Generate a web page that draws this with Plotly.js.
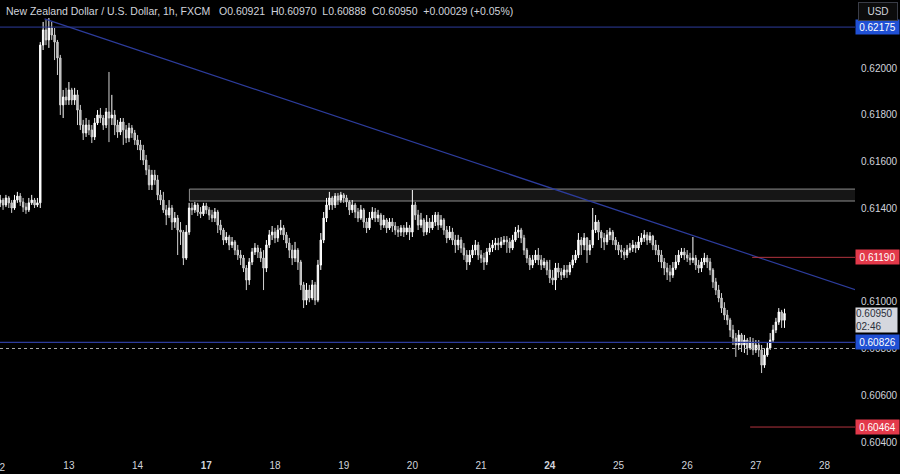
<!DOCTYPE html>
<html><head><meta charset="utf-8">
<script src="https://cdn.plot.ly/plotly-3.0.1.min.js"></script>
<style>html,body{margin:0;padding:0;background:#000;}#chart{width:900px;height:474px;}</style>
</head><body><div id="chart"></div>
<script>
// Hourly bars, index 0 = start of day 12
const dayTickIdx = [24,48,72,96,120,144,168,192,216,240,264,288];
const dayLabels = ['13','14','<b>17</b>','18','19','20','21','<b>24</b>','25','26','27','28'];
const firstDayLabel = '12';
const priceTicks = [0.604,0.606,0.608,0.610,0.614,0.616,0.618,0.620];

const firstOpen = 0.61423;
const closes = [0.61435,0.61414,0.61444,0.61423,0.61401,0.61435,0.61452,0.61427,0.61405,0.61393,
0.61423,0.61435,0.61414,0.61423,0.62098,0.62163,0.62120,0.62171,0.62141,0.62111,
0.62043,0.61842,0.61876,0.61863,0.61906,0.61863,0.61885,0.61820,0.61756,0.61722,
0.61756,0.61735,0.61705,0.61765,0.61799,0.61786,0.61756,0.61812,0.61786,0.61799,
0.61756,0.61726,0.61769,0.61735,0.61701,0.61743,0.61722,0.61692,0.61671,0.61649,
0.61606,0.61564,0.61500,0.61542,0.61521,0.61457,0.61435,0.61393,0.61371,0.61401,
0.61341,0.61358,0.61307,0.61298,0.61187,0.61298,0.61401,0.61393,0.61414,0.61384,
0.61376,0.61410,0.61393,0.61371,0.61358,0.61384,0.61328,0.61307,0.61264,0.61277,
0.61243,0.61256,0.61221,0.61200,0.61187,0.61144,0.61093,0.61170,0.61213,0.61230,
0.61213,0.61187,0.61144,0.61243,0.61286,0.61298,0.61273,0.61307,0.61316,0.61286,
0.61251,0.61221,0.61187,0.61221,0.61170,0.61072,0.61007,0.61050,0.61016,0.61072,
0.61007,0.61157,0.61264,0.61358,0.61414,0.61444,0.61414,0.61452,0.61435,0.61457,
0.61444,0.61427,0.61393,0.61414,0.61384,0.61358,0.61393,0.61341,0.61316,0.61358,
0.61384,0.61358,0.61371,0.61328,0.61350,0.61316,0.61341,0.61324,0.61307,0.61298,
0.61316,0.61298,0.61316,0.61298,0.61414,0.61371,0.61328,0.61350,0.61298,0.61341,
0.61316,0.61341,0.61371,0.61328,0.61350,0.61307,0.61273,0.61298,0.61264,0.61243,
0.61264,0.61230,0.61200,0.61170,0.61200,0.61221,0.61243,0.61200,0.61187,0.61170,
0.61213,0.61230,0.61243,0.61251,0.61243,0.61256,0.61264,0.61256,0.61230,0.61264,
0.61298,0.61307,0.61273,0.61221,0.61187,0.61157,0.61179,0.61200,0.61179,0.61157,
0.61170,0.61136,0.61102,0.61093,0.61144,0.61127,0.61114,0.61136,0.61127,0.61157,
0.61179,0.61200,0.61264,0.61243,0.61273,0.61221,0.61243,0.61307,0.61341,0.61298,
0.61273,0.61256,0.61286,0.61298,0.61264,0.61243,0.61221,0.61213,0.61200,0.61221,
0.61230,0.61243,0.61230,0.61256,0.61273,0.61286,0.61264,0.61281,0.61243,0.61221,
0.61200,0.61170,0.61144,0.61127,0.61114,0.61144,0.61170,0.61200,0.61213,0.61200,
0.61187,0.61179,0.61187,0.61157,0.61144,0.61170,0.61187,0.61170,0.61136,0.61085,
0.61050,0.61016,0.60973,0.60943,0.60922,0.60879,0.60845,0.60815,0.60858,0.60815,
0.60836,0.60802,0.60828,0.60794,0.60815,0.60794,0.60729,0.60772,0.60802,0.60836,
0.60879,0.60913,0.60956,0.60921,0.60950];

const highs = [0.61457,0.61444,0.61457,0.61452,0.61435,0.61457,0.61470,0.61465,0.61444,0.61423,
0.61444,0.61457,0.61444,0.61444,0.62111,0.62197,0.62205,0.62214,0.62197,0.62171,
0.62120,0.62056,0.61906,0.61915,0.61940,0.61915,0.61915,0.61906,0.61842,0.61778,
0.61786,0.61778,0.61756,0.61786,0.61820,0.61829,0.61799,0.61829,0.61983,0.61885,
0.61820,0.61778,0.61786,0.61786,0.61756,0.61765,0.61756,0.61735,0.61713,0.61692,
0.61671,0.61628,0.61585,0.61564,0.61564,0.61542,0.61478,0.61470,0.61414,0.61435,
0.61414,0.61384,0.61371,0.61341,0.61307,0.61328,0.61423,0.61423,0.61427,0.61423,
0.61405,0.61423,0.61423,0.61405,0.61393,0.61401,0.61393,0.61350,0.61316,0.61298,
0.61286,0.61277,0.61264,0.61243,0.61221,0.61200,0.61157,0.61187,0.61230,0.61251,
0.61243,0.61230,0.61221,0.61264,0.61307,0.61324,0.61316,0.61328,0.61350,0.61328,
0.61298,0.61273,0.61243,0.61256,0.61230,0.61179,0.61085,0.61080,0.61072,0.61093,
0.61085,0.61179,0.61294,0.61384,0.61444,0.61470,0.61452,0.61465,0.61465,0.61470,
0.61465,0.61457,0.61435,0.61435,0.61423,0.61401,0.61414,0.61401,0.61358,0.61384,
0.61405,0.61401,0.61393,0.61380,0.61371,0.61358,0.61358,0.61358,0.61341,0.61324,
0.61328,0.61328,0.61341,0.61328,0.61478,0.61427,0.61393,0.61380,0.61358,0.61371,
0.61358,0.61371,0.61384,0.61384,0.61371,0.61358,0.61324,0.61324,0.61316,0.61286,
0.61286,0.61277,0.61251,0.61221,0.61221,0.61243,0.61264,0.61256,0.61221,0.61209,
0.61230,0.61251,0.61264,0.61273,0.61273,0.61277,0.61281,0.61281,0.61273,0.61286,
0.61320,0.61328,0.61316,0.61286,0.61230,0.61200,0.61200,0.61221,0.61230,0.61200,
0.61187,0.61179,0.61179,0.61136,0.61166,0.61166,0.61144,0.61157,0.61157,0.61170,
0.61200,0.61221,0.61294,0.61277,0.61294,0.61277,0.61264,0.61401,0.61371,0.61350,
0.61307,0.61294,0.61307,0.61316,0.61307,0.61277,0.61256,0.61243,0.61230,0.61243,
0.61251,0.61264,0.61256,0.61281,0.61294,0.61307,0.61298,0.61298,0.61286,0.61264,
0.61243,0.61221,0.61187,0.61166,0.61157,0.61170,0.61200,0.61221,0.61230,0.61230,
0.61221,0.61209,0.61277,0.61200,0.61179,0.61187,0.61209,0.61200,0.61187,0.61144,
0.61102,0.61072,0.61037,0.60998,0.60965,0.60931,0.60901,0.60866,0.60879,0.60866,
0.60858,0.60845,0.60849,0.60845,0.60836,0.60836,0.60815,0.60802,0.60824,0.60866,
0.60901,0.60931,0.60973,0.60965,0.60970];

const lows = [0.61405,0.61393,0.61405,0.61401,0.61380,0.61393,0.61423,0.61410,0.61384,0.61376,
0.61384,0.61414,0.61401,0.61405,0.61401,0.62077,0.62098,0.62086,0.62120,0.62034,
0.61970,0.61799,0.61786,0.61842,0.61842,0.61842,0.61842,0.61756,0.61735,0.61692,
0.61705,0.61713,0.61679,0.61692,0.61756,0.61765,0.61735,0.61743,0.61683,0.61756,
0.61713,0.61701,0.61713,0.61671,0.61679,0.61683,0.61701,0.61671,0.61649,0.61606,
0.61585,0.61542,0.61478,0.61478,0.61500,0.61435,0.61414,0.61380,0.61328,0.61358,
0.61307,0.61316,0.61200,0.61243,0.61157,0.61179,0.61286,0.61371,0.61380,0.61367,
0.61358,0.61367,0.61376,0.61350,0.61341,0.61341,0.61294,0.61286,0.61243,0.61251,
0.61221,0.61230,0.61200,0.61179,0.61157,0.61127,0.61050,0.61072,0.61157,0.61200,
0.61187,0.61170,0.61050,0.61127,0.61230,0.61264,0.61251,0.61256,0.61286,0.61264,
0.61230,0.61187,0.61157,0.61170,0.61136,0.61050,0.60973,0.60986,0.60998,0.61007,
0.60986,0.60998,0.61136,0.61251,0.61341,0.61393,0.61393,0.61401,0.61414,0.61423,
0.61423,0.61405,0.61371,0.61380,0.61358,0.61341,0.61350,0.61316,0.61294,0.61307,
0.61350,0.61341,0.61341,0.61307,0.61316,0.61294,0.61307,0.61298,0.61286,0.61277,
0.61281,0.61277,0.61286,0.61264,0.61277,0.61350,0.61307,0.61316,0.61281,0.61286,
0.61294,0.61307,0.61324,0.61307,0.61316,0.61286,0.61251,0.61264,0.61243,0.61209,
0.61221,0.61209,0.61179,0.61136,0.61157,0.61187,0.61200,0.61179,0.61166,0.61136,
0.61157,0.61200,0.61213,0.61221,0.61221,0.61230,0.61243,0.61209,0.61209,0.61221,
0.61256,0.61273,0.61251,0.61200,0.61166,0.61136,0.61144,0.61166,0.61157,0.61136,
0.61144,0.61114,0.61080,0.61072,0.61050,0.61102,0.61093,0.61102,0.61102,0.61114,
0.61144,0.61166,0.61187,0.61200,0.61221,0.61166,0.61200,0.61230,0.61294,0.61264,
0.61230,0.61221,0.61243,0.61264,0.61243,0.61221,0.61200,0.61187,0.61179,0.61187,
0.61209,0.61213,0.61209,0.61221,0.61243,0.61256,0.61243,0.61251,0.61221,0.61200,
0.61170,0.61144,0.61114,0.61093,0.61085,0.61102,0.61136,0.61157,0.61187,0.61179,
0.61170,0.61157,0.61166,0.61136,0.61123,0.61127,0.61157,0.61144,0.61114,0.61059,
0.61029,0.60998,0.60952,0.60922,0.60901,0.60849,0.60815,0.60764,0.60794,0.60785,
0.60781,0.60772,0.60794,0.60772,0.60781,0.60764,0.60695,0.60717,0.60764,0.60794,
0.60824,0.60866,0.60901,0.60888,0.60888];

// Drawn levels and objects
const resistanceLevel = 0.62175;
const supportLevel = 0.60826;
const dottedLevel = 0.60800;
const targetUp = 0.61190;
const targetDown = 0.60464;
const zoneTop = 0.61482, zoneBottom = 0.61431, zoneStartIdx = 66.1;
const trendIdx = [15.5, 300];
const trendPrice = [0.62210, 0.61046];
const lastPrice = 0.60950;

const opens = closes.map((c, i) => i === 0 ? firstOpen : closes[i - 1]);
const idx = closes.map((c, i) => i);

const trace = {
  type: 'candlestick',
  x: idx, open: opens, high: highs, low: lows, close: closes,
  increasing: {line: {color: '#ffffff', width: 1}, fillcolor: '#ffffff'},
  decreasing: {line: {color: '#d2d2d2', width: 1}, fillcolor: '#ababab'},
  whiskerwidth: 0,
  hoverinfo: 'skip'
};

const navy = '#2d3c9c';
const red = '#b3343f';
const xMax = 298.63;

const shapes = [
  {type: 'rect', xref: 'x', yref: 'y', x0: zoneStartIdx, x1: 305, y0: zoneBottom, y1: zoneTop,
   fillcolor: '#161616', line: {color: '#8c8c8c', width: 1}, layer: 'below'},
  {type: 'line', xref: 'paper', yref: 'y', x0: 0, x1: 1, y0: resistanceLevel, y1: resistanceLevel, line: {color: navy, width: 1}},
  {type: 'line', xref: 'paper', yref: 'y', x0: 0, x1: 1, y0: supportLevel, y1: supportLevel, line: {color: navy, width: 1.2}},
  {type: 'line', xref: 'paper', yref: 'y', x0: 0, x1: 1, y0: dottedLevel, y1: dottedLevel, line: {color: '#a8a8a8', width: 1, dash: 'dot'}},
  {type: 'line', xref: 'x', yref: 'y', x0: trendIdx[0], x1: trendIdx[1], y0: trendPrice[0], y1: trendPrice[1], line: {color: navy, width: 1.2}},
  {type: 'line', xref: 'x', yref: 'y', x0: 262.7, x1: 305, y0: targetUp, y1: targetUp, line: {color: red, width: 1}},
  {type: 'line', xref: 'x', yref: 'y', x0: 262, x1: 305, y0: targetDown, y1: targetDown, line: {color: red, width: 1}}
];

function axisLabel(price, text, bg, fg) {
  return {xref: 'paper', x: 1, xanchor: 'left', yref: 'y', y: price, yanchor: 'middle',
    text: text, showarrow: false, bgcolor: bg, width: 41, height: 12, borderpad: 1,
    font: {size: 10, color: fg}, align: 'center'};
}

const annotations = [
  axisLabel(resistanceLevel, resistanceLevel.toFixed(5), '#2050d4', '#ffffff'),
  axisLabel(targetUp, targetUp.toFixed(5), '#e3394a', '#ffffff'),
  axisLabel(supportLevel, supportLevel.toFixed(5), '#2050d4', '#ffffff'),
  axisLabel(targetDown, targetDown.toFixed(5), '#e3394a', '#ffffff'),
  {xref: 'paper', x: 1, xanchor: 'left', yref: 'y', y: lastPrice, yanchor: 'top', yshift: 6,
   text: lastPrice.toFixed(5) + '<br>02:46', showarrow: false, bgcolor: '#d5d7de', width: 41, height: 24,
   borderpad: 0, font: {size: 10, color: '#2a2e39'}, align: 'left'},
  {xref: 'paper', yref: 'paper', x: 0, y: 1, xanchor: 'left', yanchor: 'top', xshift: 4, yshift: -3,
   text: 'New Zealand Dollar / U.S. Dollar, 1h, FXCM&nbsp;&nbsp;&nbsp;O0.60921&nbsp;&nbsp;H0.60970&nbsp;&nbsp;L0.60888&nbsp;&nbsp;C0.60950&nbsp;&nbsp;+0.00029 (+0.05%)',
   showarrow: false, font: {size: 10.5, color: '#d1d4dc'}, align: 'left'},
  {xref: 'paper', yref: 'paper', x: 1, y: 1, xanchor: 'left', yanchor: 'top', xshift: 3, yshift: -2,
   text: 'USD', showarrow: false, bgcolor: '#0c0c0c', bordercolor: '#3a3d47', borderwidth: 1, borderpad: 3,
   width: 32, font: {size: 10, color: '#d1d4dc'}},
  {xref: 'x', x: 0, xanchor: 'center', yref: 'paper', y: 0, yanchor: 'top', yshift: -8,
   text: firstDayLabel, showarrow: false, font: {size: 10, color: '#d1d4dc'}}
];

const layout = {
  width: 900, height: 474,
  paper_bgcolor: '#000000', plot_bgcolor: '#000000',
  margin: {l: 0, r: 45, t: 0, b: 22},
  showlegend: false,
  font: {family: '"Liberation Sans", Arial, sans-serif', size: 10, color: '#d1d4dc'},
  xaxis: {range: [-0.07, xMax], tickmode: 'array', tickvals: dayTickIdx, ticktext: dayLabels,
    showgrid: false, zeroline: false, showline: false, ticks: '', rangeslider: {visible: false},
    tickfont: {size: 10, color: '#d1d4dc'}, ticklabelstandoff: 6, fixedrange: true},
  yaxis: {side: 'right', range: [0.603572, 0.622909], tickmode: 'array', tickvals: priceTicks,
    ticktext: priceTicks.map(v => v.toFixed(5)), showgrid: false, zeroline: false, showline: false,
    ticks: '', tickfont: {size: 10, color: '#d1d4dc'}, ticklabelstandoff: 5, fixedrange: true},
  shapes: shapes,
  annotations: annotations
};

Plotly.newPlot('chart', [trace], layout, {displayModeBar: false, staticPlot: true});
</script></body></html>
